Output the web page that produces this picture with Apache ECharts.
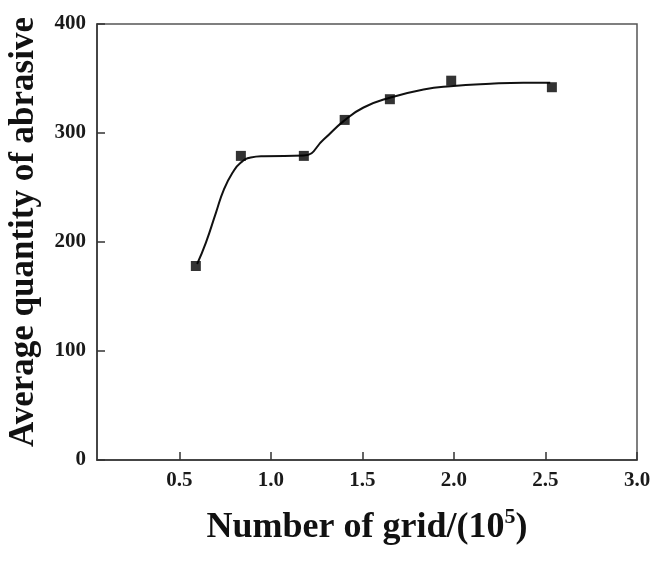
<!DOCTYPE html>
<html>
<head>
<meta charset="utf-8">
<script src="https://cdn.jsdelivr.net/npm/echarts@6/dist/echarts.min.js"></script>
<style>html,body{margin:0;padding:0;background:#fff;}#c{width:656px;height:564px;}</style>
</head>
<body>
<div id="c"></div>
<script>
const gridCounts = [0.59, 0.836, 1.18, 1.403, 1.65, 1.985, 2.535];
const abrasiveQty = [178, 279, 279, 312, 331, 348, 342];
// Fitted curve as drawn in the reference
const fitX = [0.597, 0.645, 0.700, 0.743, 0.791, 0.836, 0.890, 0.961, 1.179, 1.288, 1.397, 1.506, 1.654, 1.834, 1.981, 2.199, 2.379, 2.526];
const fitY = [179.8, 199.4, 227.0, 248.1, 263.7, 272.9, 277.5, 278.7, 279.3, 294.0, 310.9, 323.4, 332.6, 340.0, 343.0, 345.2, 346.1, 346.1];
const xTicks = [0.5, 1.0, 1.5, 2.0, 2.5, 3.0];
const yTicks = [0, 100, 200, 300, 400];

const points = gridCounts.map((x, i) => [x, abrasiveQty[i]]);
const fitPoints = fitX.map((x, i) => [x, fitY[i]]);
const FONT = '"Liberation Serif", "Times New Roman", serif';

const chart = echarts.init(document.getElementById('c'), null, {renderer: 'canvas'});
chart.setOption({
  animation: false,
  backgroundColor: '#fff',
  grid: {left: 97, right: 19, top: 24, bottom: 104, containLabel: false, outerBoundsMode: 'none',
         show: true, borderColor: '#555', borderWidth: 1.5, backgroundColor: 'transparent'},
  xAxis: {
    type: 'value', min: 0.05, max: 3.0,
    name: '{t|Number of grid/(10}{s|5}{t|)}',
    nameLocation: 'middle', nameGap: 46,
    nameTextStyle: {rich: {
      t: {fontFamily: FONT, fontWeight: 'bold', fontSize: 36, color: '#111', lineHeight: 40, verticalAlign: 'bottom'},
      s: {fontFamily: FONT, fontWeight: 'bold', fontSize: 22, color: '#111', verticalAlign: 'top', lineHeight: 40, padding: [0,0,16,0]}
    }},
    axisLine: {show: true, onZero: false, lineStyle: {color: '#333', width: 1.5}},
    axisTick: {show: true, inside: true, length: 8, customValues: xTicks, lineStyle: {color: '#333', width: 1.5}},
    axisLabel: {customValues: xTicks, formatter: v => v.toFixed(1), fontFamily: FONT, fontWeight: 'bold', fontSize: 21, color: '#1a1a1a', margin: 10},
    splitLine: {show: false}
  },
  yAxis: {
    type: 'value', min: 0, max: 400, interval: 100,
    name: 'Average quantity of abrasive',
    nameLocation: 'middle', nameGap: 56, nameRotate: 90,
    nameTextStyle: {fontFamily: FONT, fontWeight: 'bold', fontSize: 35, color: '#111', padding: [0, 0, 0, 20]},
    axisLine: {show: true, onZero: false, lineStyle: {color: '#333', width: 1.5}},
    axisTick: {show: true, inside: true, length: 8, lineStyle: {color: '#333', width: 1.5}},
    axisLabel: {customValues: yTicks, fontFamily: FONT, fontWeight: 'bold', fontSize: 21, color: '#1a1a1a', margin: 11},
    splitLine: {show: false}
  },
  series: [{
    type: 'line',
    data: fitPoints,
    smooth: 0.5,
    showSymbol: false,
    lineStyle: {color: '#111', width: 2},
    z: 2
  }, {
    type: 'scatter',
    data: points,
    symbol: 'rect',
    symbolSize: 10,
    itemStyle: {color: '#000'},
    z: 3
  }]
});
</script>
</body>
</html>
